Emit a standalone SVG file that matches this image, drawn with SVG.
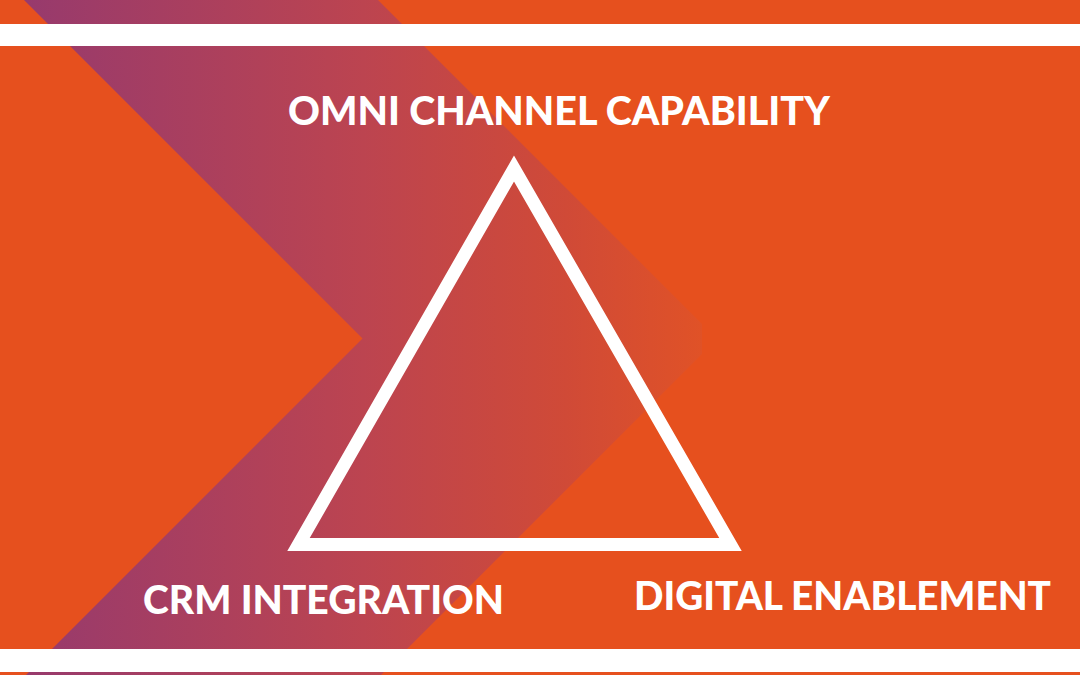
<svg xmlns="http://www.w3.org/2000/svg" width="1080" height="675" viewBox="0 0 1080 675">
  <defs>
    <linearGradient id="band" gradientUnits="userSpaceOnUse" x1="24" y1="0" x2="702" y2="0">
      <stop offset="0" stop-color="#973A6D"/>
      <stop offset="0.5" stop-color="#BC4450"/>
      <stop offset="0.8" stop-color="#D04A37"/>
      <stop offset="1" stop-color="#E05227"/>
    </linearGradient>
  </defs>
  <style>
    .bar { fill: #FFFFFF; }
    .label { fill: #FFFFFF; font-family: "Lato", "Liberation Sans", sans-serif; font-weight: 900; font-size: 40px; }
    .tri { fill: none; stroke: #FFFFFF; stroke-width: 13; stroke-linejoin: miter; stroke-miterlimit: 10; }
  </style>
  <rect x="0" y="0" width="1080" height="675" fill="#E6501E"/>
  <polygon points="24,0 378,0 702,324 702,354 381,675 26,675 362.5,338.5" fill="url(#band)"/>
  <rect class="bar" x="0" y="24" width="1080" height="22"/>
  <rect class="bar" x="0" y="649" width="1080" height="23"/>
  <g id="triangle">
    <polygon class="tri" points="514,168.5 730.5,544.5 298.5,544.5"/>
  </g>
  <g id="omni">
    <text class="label" x="288" y="125" textLength="542" lengthAdjust="spacingAndGlyphs">OMNI CHANNEL CAPABILITY</text>
  </g>
  <g id="crm">
    <text class="label" x="143" y="614" textLength="361" lengthAdjust="spacingAndGlyphs">CRM INTEGRATION</text>
  </g>
  <g id="digital">
    <text class="label" x="634" y="610" textLength="417" lengthAdjust="spacingAndGlyphs">DIGITAL ENABLEMENT</text>
  </g>
</svg>
